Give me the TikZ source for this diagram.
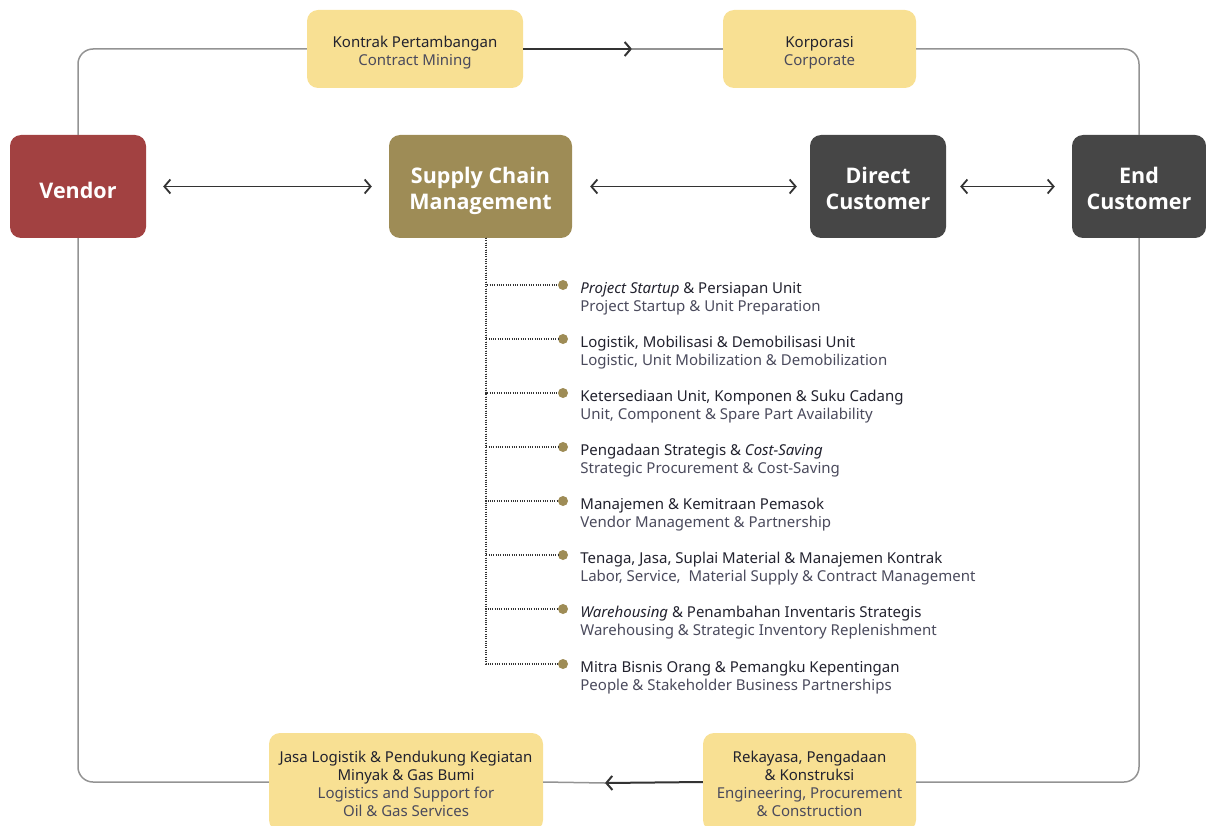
\documentclass[tikz,border=0pt]{standalone}
\usepackage{fontspec}
\setmainfont{Noto Sans}
\newfontfamily\boxfont{Open Sans}
\usepackage{xcolor}
\definecolor{vendorred}{HTML}{A24141}
\definecolor{scmolive}{HTML}{9E8C56}
\definecolor{custgrey}{HTML}{464646}
\definecolor{sectoryellow}{HTML}{F8E093}
\definecolor{itemdark}{HTML}{22222E}
\definecolor{itemgrey}{HTML}{4A4A5C}
\usepackage{tikz}
\usetikzlibrary{arrows.meta, positioning}
\tikzstyle{mainbox}=[rectangle, rounded corners=11pt, minimum width=136pt, minimum height=103pt, text centered, align=center, text=white, text depth=0pt, font=\boxfont\fontsize{21.5}{26}\selectfont\bfseries]
\tikzstyle{sector}=[rectangle, rounded corners=11pt, fill=sectoryellow, minimum height=78pt, text centered, align=center, text depth=0pt, font=\fontsize{15}{18}\selectfont]
\tikzstyle{item}=[rectangle, inner sep=0pt, align=left, font=\fontsize{15}{18}\selectfont]
\tikzstyle{bullet}=[circle, fill=scmolive, minimum size=10pt, inner sep=0pt]
\tikzstyle{cycle}=[draw=gray!85, line width=1.5pt, rounded corners=15pt]
\tikzstyle{arrow}=[draw=black!80, line width=2pt, -{Straight Barb[length=6pt, width=14pt]}]
\tikzstyle{twoway}=[draw=black!80, line width=1.8pt, {Straight Barb[length=6pt, width=14pt]}-{Straight Barb[length=6pt, width=14pt]}]
\tikzstyle{dotline}=[draw=black!80, line width=1.1pt, dash pattern=on 1pt off 1.3pt]
\newcommand{\twolines}[2]{\textcolor{itemdark}{#1}\\\textcolor{itemgrey}{#2}}
\newcommand{\fourlines}[4]{\textcolor{itemdark}{#1}\\\textcolor{itemdark}{#2}\\\textcolor{itemgrey}{#3}\\\textcolor{itemgrey}{#4}}

\begin{document}
\begin{tikzpicture}[x=1pt, y=-1pt]
		\useasboundingbox (0,0) rectangle (1206,826);
		
		\node(vendor)[mainbox, fill=vendorred, text height=24pt] at (78,186.5){Vendor};
		\node(scm)[mainbox, fill=scmolive, minimum width=183pt, text height=47pt] at (480.5,186.5){Supply Chain\\Management};
		\node(direct)[mainbox, fill=custgrey, text height=47pt] at (878,186.5){Direct\\Customer};
		\node(end)[mainbox, fill=custgrey, minimum width=134pt, text height=47pt] at (1139,186.5){End\\Customer};
		
		
		\node(kontrak)[sector, minimum width=216pt, text height=33pt] at (415,49){\twolines{Kontrak Pertambangan}{Contract Mining}};
		\node(korporasi)[sector, minimum width=193pt, text height=33pt] at (819.5,49){\twolines{Korporasi}{Corporate}};
		\node(rekayasa)[sector, minimum width=213pt, minimum height=98pt, text height=69pt] at (809.5,782){\fourlines{Rekayasa, Pengadaan}{\& Konstruksi}{Engineering, Procurement}{\& Construction}};
		\node(jasa)[sector, minimum width=274pt, minimum height=98pt, text height=69pt] at (406,782){\fourlines{Jasa Logistik \& Pendukung Kegiatan}{Minyak \& Gas Bumi}{Logistics and Support for}{Oil \& Gas Services}};
		
		
		\coordinate(top-mid) at (632,49);
		\coordinate(bottom-mid) at (605,783);
		\coordinate(tree) at (486,238);
		
		
		\node(d1)[bullet] at (563,285){};
		\node(d2)[bullet] at (563,339){};
		\node(d3)[bullet] at (563,393){};
		\node(d4)[bullet] at (563,447){};
		\node(d5)[bullet] at (563,501){};
		\node(d6)[bullet] at (563,555){};
		\node(d7)[bullet] at (563,609){};
		\node(d8)[bullet] at (563,664){};
		
		
		\node(i1)[item, right=12pt of d1, yshift=-13.5pt]{\twolines{\textit{Project Startup} \& Persiapan Unit}{Project Startup \& Unit Preparation}};
		\node(i2)[item, right=12pt of d2, yshift=-13.5pt]{\twolines{Logistik, Mobilisasi \& Demobilisasi Unit}{Logistic, Unit Mobilization \& Demobilization}};
		\node(i3)[item, right=12pt of d3, yshift=-13.5pt]{\twolines{Ketersediaan Unit, Komponen \& Suku Cadang}{Unit, Component \& Spare Part Availability}};
		\node(i4)[item, right=12pt of d4, yshift=-13.5pt]{\twolines{Pengadaan Strategis \& \textit{Cost-Saving}}{Strategic Procurement \& Cost-Saving}};
		\node(i5)[item, right=12pt of d5, yshift=-13.5pt]{\twolines{Manajemen \& Kemitraan Pemasok}{Vendor Management \& Partnership}};
		\node(i6)[item, right=12pt of d6, yshift=-13.5pt]{\twolines{Tenaga, Jasa, Suplai Material \& Manajemen Kontrak}{Labor, Service,\ \ Material Supply \& Contract Management}};
		\node(i7)[item, right=12pt of d7, yshift=-13.5pt]{\twolines{\textit{Warehousing} \& Penambahan Inventaris Strategis}{Warehousing \& Strategic Inventory Replenishment}};
		\node(i8)[item, right=12pt of d8, yshift=-13.5pt]{\twolines{Mitra Bisnis Orang \& Pemangku Kepentingan}{People \& Stakeholder Business Partnerships}};
		
		
		% outer cycle
		\draw[cycle](vendor.north) |- (kontrak.west);
		\draw[cycle](top-mid) -- (korporasi.west);
		\draw[cycle](korporasi.east) -| (end.north);
		\draw[cycle](end.south) |- (rekayasa.east);
		\draw[cycle](bottom-mid) -- (jasa.east);
		\draw[cycle](jasa.west) -| (vendor.south);
		\draw[arrow](kontrak.east) -- (top-mid);
		\draw[arrow](rekayasa.west) -- (bottom-mid);
		
		
		\draw[twoway]([xshift=-17pt]scm.west) -- ([xshift=17pt]vendor.east);
		\draw[twoway]([xshift=18pt]scm.east) -- ([xshift=-13pt]direct.west);
		\draw[twoway]([xshift=14pt]direct.east) -- ([xshift=-17pt]end.west);
		
		
		\draw[dotline](tree) |- (d1);
		\draw[dotline](tree) |- (d2);
		\draw[dotline](tree) |- (d3);
		\draw[dotline](tree) |- (d4);
		\draw[dotline](tree) |- (d5);
		\draw[dotline](tree) |- (d6);
		\draw[dotline](tree) |- (d7);
		\draw[dotline](tree) |- (d8);
		
\end{tikzpicture}
\end{document}
